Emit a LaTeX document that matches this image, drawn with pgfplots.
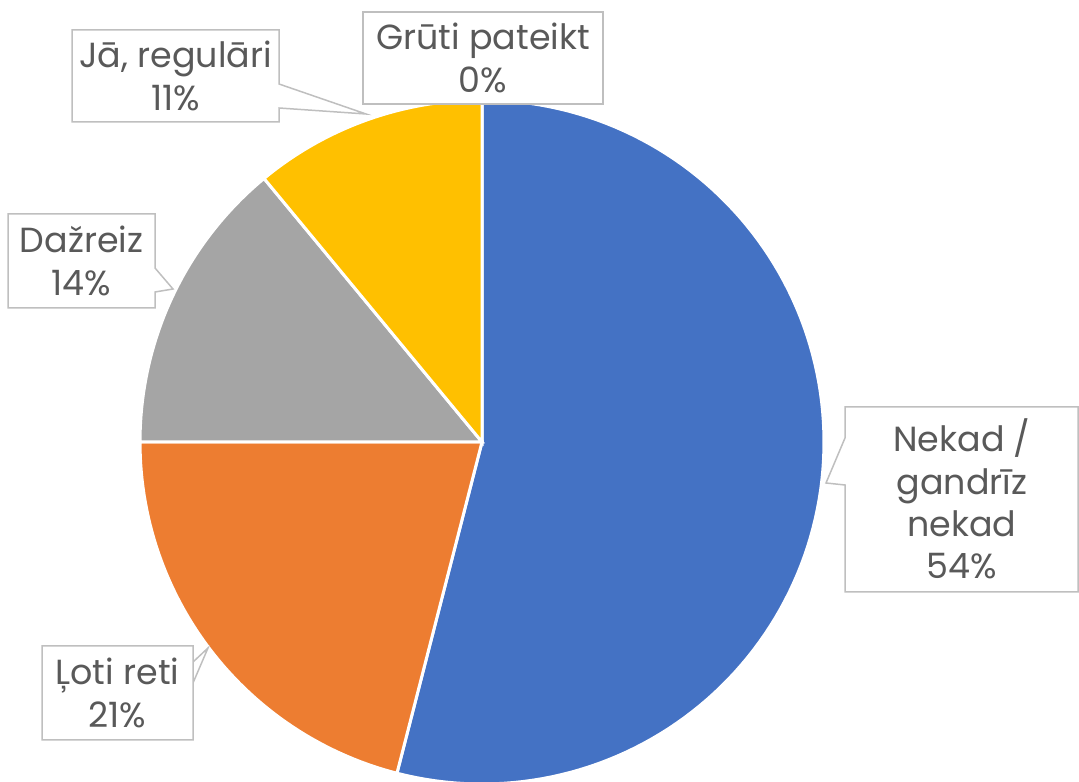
\documentclass[border=0pt]{standalone}
\usepackage{pgfplots}
\pgfplotsset{compat=1.18}
\usepackage{fontspec}
\setmainfont{Poppins}
\definecolor{cBlue}{HTML}{4472C4}
\definecolor{cOrange}{HTML}{ED7D31}
\definecolor{cGray}{HTML}{A5A5A5}
\definecolor{cYellow}{HTML}{FFC000}
\definecolor{cText}{HTML}{595959}
\definecolor{cBox}{HTML}{BFBFBF}
% shares in percent
\def\pA{54}\def\pB{21}\def\pC{14}\def\pD{11}\def\pE{0}
\begin{document}
\begin{tikzpicture}
\begin{axis}[at={(0,0)},anchor=south west,
  width=1079bp,height=782bp,scale only axis,hide axis,
  xmin=0,xmax=1079,ymin=0,ymax=782,clip=false]
\pgfmathsetmacro{\aA}{90}
\pgfmathsetmacro{\aB}{\aA-3.6*\pA}
\pgfmathsetmacro{\aC}{\aB-3.6*\pB}
\pgfmathsetmacro{\aD}{\aC-3.6*\pC}
\pgfmathsetmacro{\aE}{\aD-3.6*\pD}
\addplot[fill=cBlue,draw=white,line width=3bp,domain=\aB:\aA,samples=120,variable=\t]
  ({482+342*cos(t)},{340+342*sin(t)}) -- (axis cs:482,340) -- cycle;
\addplot[fill=cOrange,draw=white,line width=3bp,domain=\aC:\aB,samples=60,variable=\t]
  ({482+342*cos(t)},{340+342*sin(t)}) -- (axis cs:482,340) -- cycle;
\addplot[fill=cGray,draw=white,line width=3bp,domain=\aD:\aC,samples=60,variable=\t]
  ({482+342*cos(t)},{340+342*sin(t)}) -- (axis cs:482,340) -- cycle;
\addplot[fill=cYellow,draw=white,line width=3bp,domain=\aE:\aD,samples=60,variable=\t]
  ({482+342*cos(t)},{340+342*sin(t)}) -- (axis cs:482,340) -- cycle;
% callouts (pixel coords, y flipped)
\begin{scope}[draw=cBox,line width=1.5bp,fill=white]
\filldraw (axis cs:845,375) -- (axis cs:1078,375) -- (axis cs:1078,190) -- (axis cs:845,190)
  -- (axis cs:845,297) -- (axis cs:826,299) -- (axis cs:845,344) -- cycle;
\filldraw (axis cs:72,752) -- (axis cs:279,752) -- (axis cs:279,698) -- (axis cs:366,668)
  -- (axis cs:279,674) -- (axis cs:279,660) -- (axis cs:72,660) -- cycle;
\filldraw (axis cs:363,770) rectangle (axis cs:603,678);
\filldraw (axis cs:8,568) -- (axis cs:155,568) -- (axis cs:155,514) -- (axis cs:173,493)
  -- (axis cs:155,490) -- (axis cs:155,474) -- (axis cs:8,474) -- cycle;
\filldraw (axis cs:42,136) -- (axis cs:193,136) -- (axis cs:193,99) -- (axis cs:208,134)
  -- (axis cs:193,120) -- (axis cs:193,42) -- (axis cs:42,42) -- cycle;
\end{scope}
\begin{scope}[every node/.style={text=cText,align=center,inner sep=0pt,
    font=\fontsize{35}{42.5}\selectfont}]
\node at (axis cs:962,283) {Nekad /\\gandrīz\\nekad\\54\%};
\node at (axis cs:175.5,706) {Jā, regulāri\\11\%};
\node at (axis cs:483,724) {Grūti pateikt\\0\%};
\node at (axis cs:81.5,521) {Dažreiz\\14\%};
\node at (axis cs:117.5,89) {Ļoti reti\\21\%};
\end{scope}
\end{axis}
\pgfresetboundingbox
\path (0,0) rectangle (1079bp,782bp);
\end{tikzpicture}
\end{document}
